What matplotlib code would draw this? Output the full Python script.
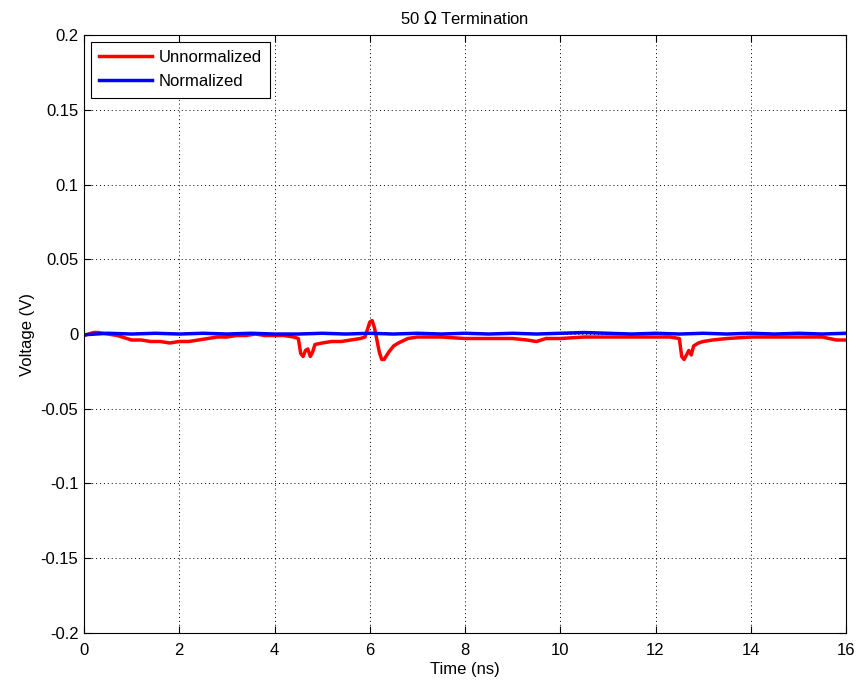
import numpy as np
import matplotlib
matplotlib.use("Agg")
import matplotlib.pyplot as plt

plt.rcParams['font.family'] = ['Liberation Sans', 'DejaVu Sans']

# Datos (tiempo en ns, voltaje en V)
red_t = [0, 0.1, 0.2, 0.3, 0.5, 0.7, 0.9, 1.0, 1.2, 1.4, 1.6, 1.8, 2.0, 2.2,
         2.4, 2.6, 2.8, 3.0, 3.2, 3.4, 3.6, 3.8, 4.0, 4.2, 4.4, 4.5, 4.55,
         4.6, 4.65, 4.7, 4.75, 4.8, 4.85, 5.0, 5.2, 5.4, 5.6, 5.8, 5.9, 5.95,
         6.0, 6.05, 6.1, 6.15, 6.2, 6.25, 6.3, 6.4, 6.5, 6.6, 6.8, 7.0, 7.5,
         8.0, 8.5, 9.0, 9.3, 9.5, 9.7, 10.0, 10.5, 11.0, 11.5, 12.0, 12.3,
         12.5, 12.55, 12.6, 12.65, 12.7, 12.75, 12.8, 12.9, 13.0, 13.2, 13.5,
         14.0, 14.5, 15.0, 15.5, 15.8, 16.0]
red_v = [-0.001, 0.000, 0.001, 0.001, 0.000, -0.001, -0.003, -0.004, -0.004,
         -0.005, -0.005, -0.006, -0.005, -0.005, -0.004, -0.003, -0.002,
         -0.002, -0.001, -0.001, 0.000, -0.001, -0.001, -0.001, -0.002,
         -0.003, -0.013, -0.015, -0.011, -0.010, -0.015, -0.012, -0.007,
         -0.006, -0.005, -0.005, -0.004, -0.003, -0.002, 0.003, 0.008, 0.009,
         0.004, -0.004, -0.012, -0.017, -0.017, -0.012, -0.008, -0.006,
         -0.003, -0.002, -0.002, -0.003, -0.003, -0.003, -0.004, -0.005,
         -0.003, -0.003, -0.002, -0.002, -0.002, -0.002, -0.002, -0.003,
         -0.015, -0.017, -0.014, -0.011, -0.014, -0.008, -0.006, -0.005,
         -0.004, -0.003, -0.002, -0.002, -0.002, -0.002, -0.004, -0.004]

blue_t = [0, 0.5, 1.0, 1.5, 2.0, 2.5, 3.0, 3.5, 4.0, 4.5, 5.0, 5.5, 6.0, 6.5,
          7.0, 7.5, 8.0, 8.5, 9.0, 9.5, 10.0, 10.5, 11.0, 11.5, 12.0, 12.5,
          13.0, 13.5, 14.0, 14.5, 15.0, 15.5, 16.0]
blue_v = [-0.0005, 0.0005, 0.0, 0.0005, 0.0, 0.0005, 0.0, 0.0005, 0.0, 0.0,
          0.0005, 0.0, 0.0005, 0.0, 0.0005, 0.0, 0.0005, 0.0, 0.0005, 0.0,
          0.0005, 0.001, 0.0005, 0.0, 0.0005, 0.0, 0.0005, 0.0, 0.0005, 0.0,
          0.0005, 0.0, 0.0005]

yticks = [-0.2, -0.15, -0.1, -0.05, 0, 0.05, 0.1, 0.15, 0.2]
ytick_labels = ['-0.2', '-0.15', '-0.1', '-0.05', '0', '0.05', '0.1', '0.15', '0.2']
xticks = [0, 2, 4, 6, 8, 10, 12, 14, 16]

fig = plt.figure(figsize=(8.61, 6.88), dpi=100)
ax = fig.add_axes([0.0976, 0.080, 0.885, 0.869])

ax.plot(red_t, red_v, color='red', lw=2.5, label='Unnormalized')
ax.plot(blue_t, blue_v, color='blue', lw=2.5, label='Normalized')

ax.set_xlim(0, 16)
ax.set_ylim(-0.2, 0.2)
ax.set_xticks(xticks)
ax.set_xticklabels([str(x) for x in xticks])
ax.set_yticks(yticks)
ax.set_yticklabels(ytick_labels)
ax.tick_params(direction='in', labelsize=12, top=True, right=True, length=5, pad=4)
ax.tick_params(axis='x', pad=7)
ax.grid(True, color='black', linestyle=(0, (1, 3)), linewidth=0.7)

ax.set_xlabel('Time (ns)', fontsize=12, labelpad=3)
ax.set_ylabel('Voltage (V)', fontsize=12, labelpad=4)
ax.set_title('50 $\\Omega$ Termination', fontsize=12, pad=8)

leg = ax.legend(loc='upper left', fontsize=12, fancybox=False, framealpha=1,
                edgecolor='black', handlelength=3.2, borderaxespad=0.4,
                labelspacing=0.55, handletextpad=0.4, borderpad=0.5)
leg.get_frame().set_linewidth(0.8)

plt.savefig('out.png', dpi=100)
